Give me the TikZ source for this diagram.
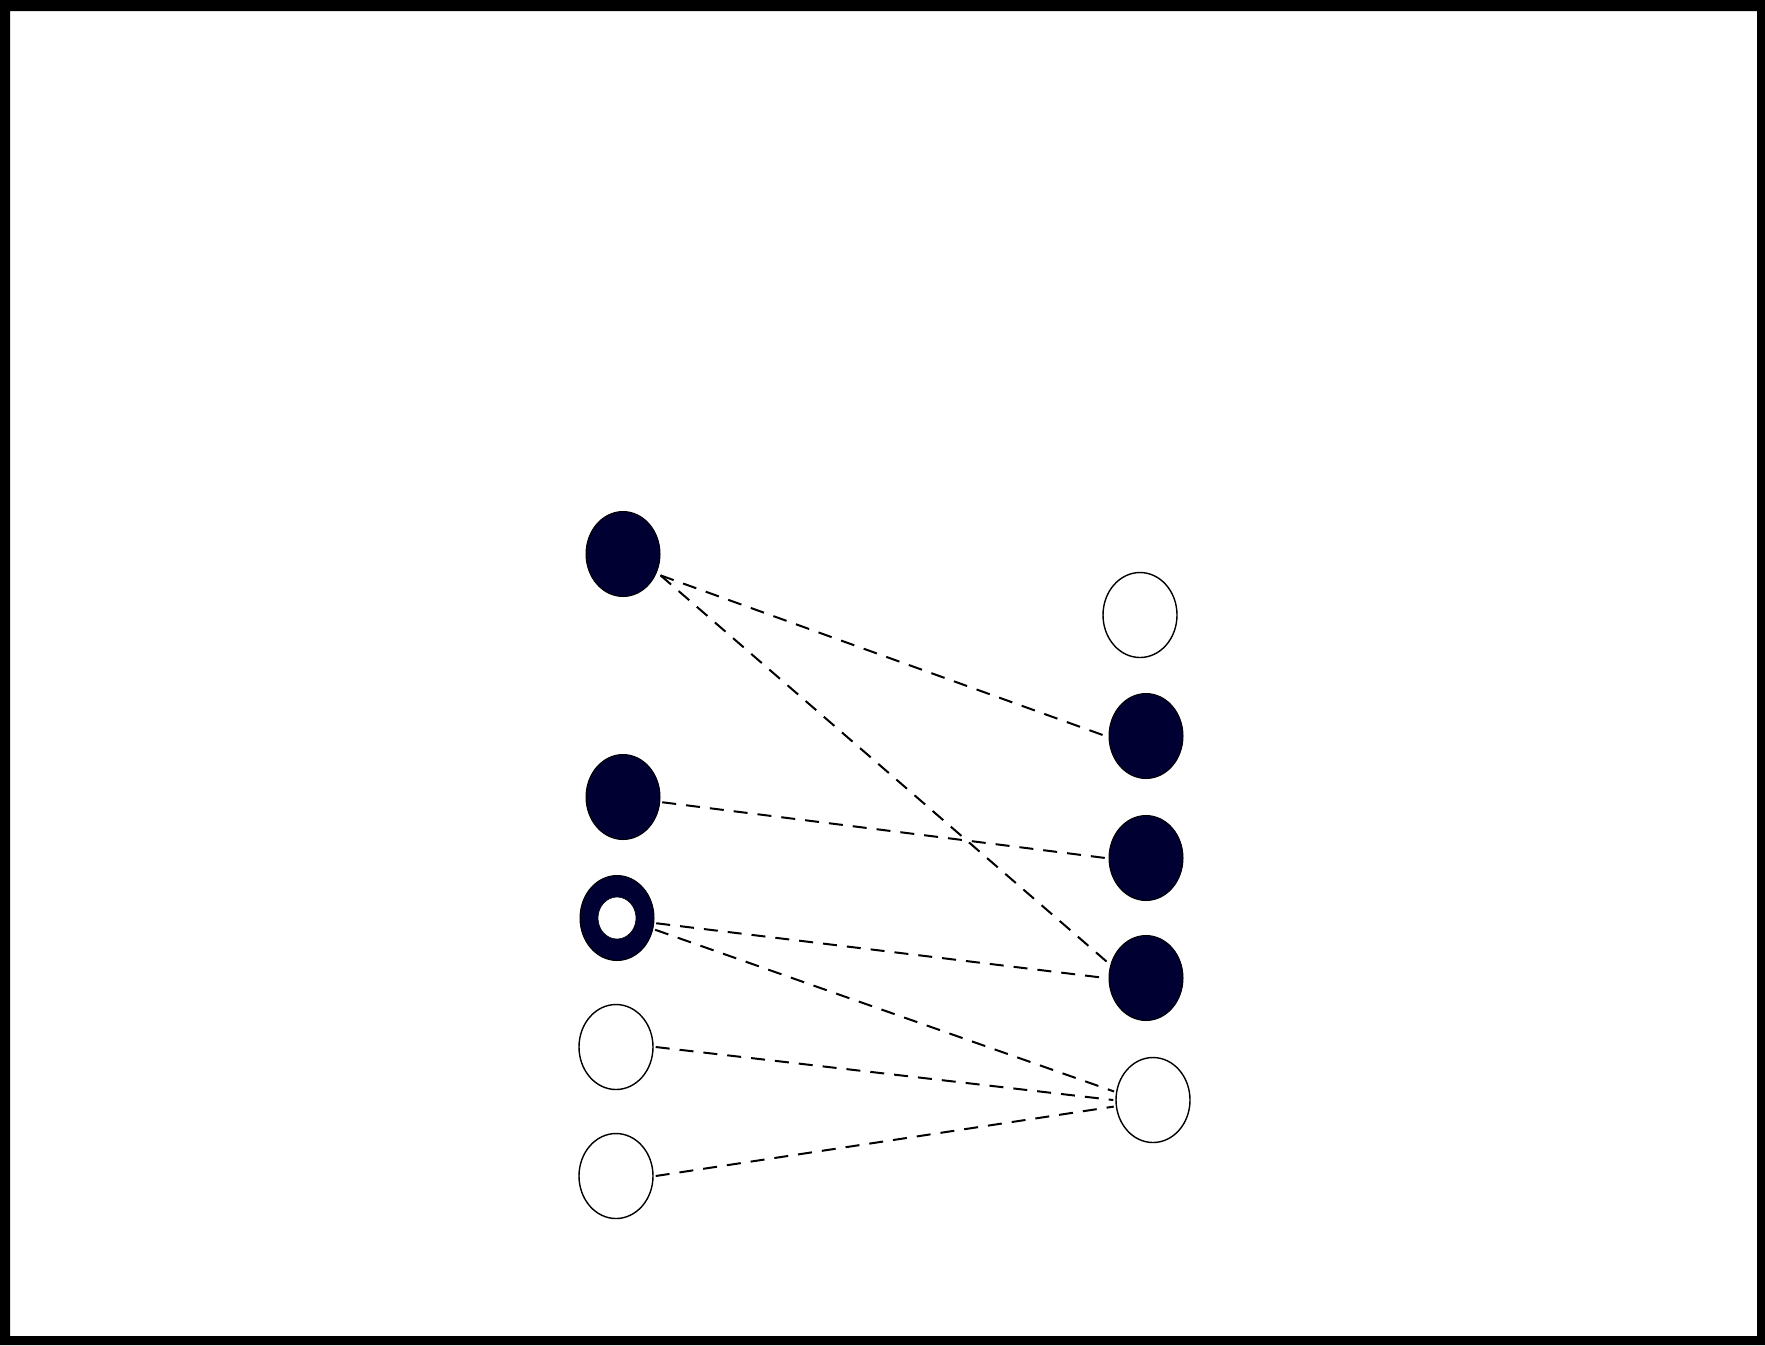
\documentclass[tikz,border=0pt]{standalone}
\usetikzlibrary{shapes.geometric}
\definecolor{navy}{RGB}{0,0,51}
\begin{document}
\begin{tikzpicture}[x=0.5pt,y=-0.5pt,
  dot/.style={ellipse,inner sep=0pt,minimum width=37pt,minimum height=42.5pt},
  full/.style={dot,fill=navy,draw=black,line width=0.5pt},
  empty/.style={dot,fill=white,draw=black,line width=0.7pt},
  hole/.style={ellipse,inner sep=0pt,minimum width=19pt,minimum height=21pt,fill=white,draw=black,line width=0.3pt},
  link/.style={draw=black,line width=1pt,dash pattern=on 7pt off 5pt}]
\useasboundingbox (0,0) rectangle (1765,1345);
\fill[black,even odd rule] (0,0) rectangle (1765,1345) (10,11) rectangle (1757,1336);
% left column
\node[full]  (A) at (623,554) {};
\node[full]  (B) at (623,797) {};
\node[full]  (C) at (617,918) {};
\node[hole]  (Ch) at (617,918) {};
\node[empty] (D) at (616,1047) {};
\node[empty] (E) at (616,1176) {};
% right column
\node[empty] (R1) at (1140,615) {};
\node[full]  (R2) at (1146,736) {};
\node[full]  (R3) at (1146,858) {};
\node[full]  (R4) at (1146,978) {};
\node[empty] (R5) at (1153,1100) {};
% connectors
\draw[link] ([shift={(4,2)}]A.-30) -- ([shift={(-3,0)}]R2.180);
\draw[link] ([shift={(4,2)}]A.-30) -- ([shift={(-2,-2)}]R4.160);
\draw[link] ([shift={(2,0)}]B.-8) -- ([shift={(-3,0)}]R3.180);
\draw[link] ([shift={(2,0)}]C.-8) -- ([shift={(-3,0)}]R4.180);
\draw[link] ([shift={(2,0)}]C.-18) -- ([shift={(-2,0)}]R5.167);
\draw[link] ([shift={(2,0)}]D.0) -- ([shift={(-2,0)}]R5.180);
\draw[link] ([shift={(2,0)}]E.0) -- ([shift={(-2,0)}]R5.190);
\end{tikzpicture}
\end{document}
